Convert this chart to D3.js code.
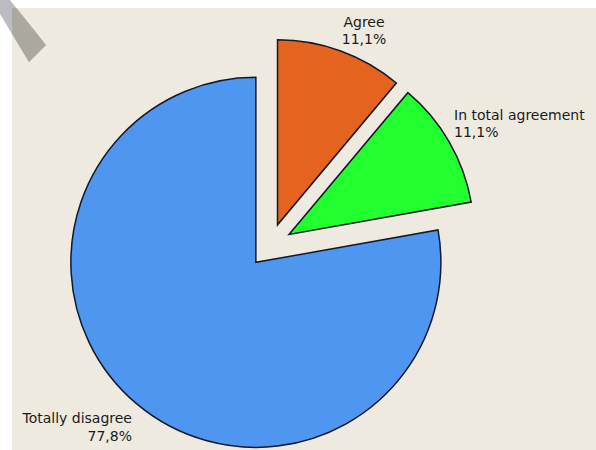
<!DOCTYPE html>
<html><head><meta charset="utf-8">
<script src="https://cdn.jsdelivr.net/npm/d3@7"></script>
<style>html,body{margin:0;padding:0;background:#fff;}svg{display:block;}</style>
</head><body>
<svg id="chart" width="596" height="450"></svg>
<script>
const categories = ["Agree", "In total agreement", "Totally disagree"];
const values = [11.1, 11.1, 77.8];
const valueLabels = ["11,1%", "11,1%", "77,8%"];
const colors = ["#E3631F", "#22FF2E", "#4E96EF"];

const svg = d3.select("#chart");
const W = 596, H = 450;
const panel = {x: 12, y: 8, w: W - 12, h: H - 8};

svg.append("defs").append("clipPath").attr("id", "pclip")
  .append("rect").attr("x", panel.x).attr("y", panel.y).attr("width", panel.w).attr("height", panel.h);

svg.append("rect").attr("x", panel.x).attr("y", panel.y).attr("width", panel.w).attr("height", panel.h)
  .attr("fill", "#EEEAE0");

const band = [[0,0],[10,0],[46,45],[29,62],[0,14]];
svg.append("polygon").attr("points", band.map(p => p.join(",")).join(" ")).attr("fill", "#BCBDC0");
svg.append("polygon").attr("points", band.map(p => p.join(",")).join(" ")).attr("fill", "#AAA89F")
  .attr("clip-path", "url(#pclip)");

const cx = 270, cy = 245.5, R = 185, explode = 22;
const pie = d3.pie().sort(null).startAngle(0).endAngle(2 * Math.PI);
const arc = d3.arc().innerRadius(0).outerRadius(R);
const arcs = pie(values);

const g = svg.append("g").attr("transform", `translate(${cx},${cy})`);
g.selectAll("path").data(arcs).join("path")
  .attr("d", arc)
  .attr("transform", d => {
    const a = (d.startAngle + d.endAngle) / 2;
    return `translate(${explode * Math.sin(a)},${-explode * Math.cos(a)})`;
  })
  .attr("fill", (d, i) => colors[i])
  .attr("stroke", "#141828")
  .attr("stroke-width", 1.5)
  .attr("stroke-linejoin", "miter");

const labelPos = [
  {x: 364, y: 26.5, anchor: "middle"},
  {x: 454, y: 119.5, anchor: "start"},
  {x: 132, y: 423, anchor: "end"}
];
const tg = svg.append("g").attr("font-family", "DejaVu Sans, Verdana, sans-serif")
  .attr("font-size", 14).attr("fill", "#1a1a1a");
categories.forEach((c, i) => {
  const p = labelPos[i];
  const t = tg.append("text").attr("x", p.x).attr("y", p.y).attr("text-anchor", p.anchor);
  t.append("tspan").attr("x", p.x).text(c);
  t.append("tspan").attr("x", p.x).attr("dy", 17.5).text(valueLabels[i]);
});
</script>
</body></html>
